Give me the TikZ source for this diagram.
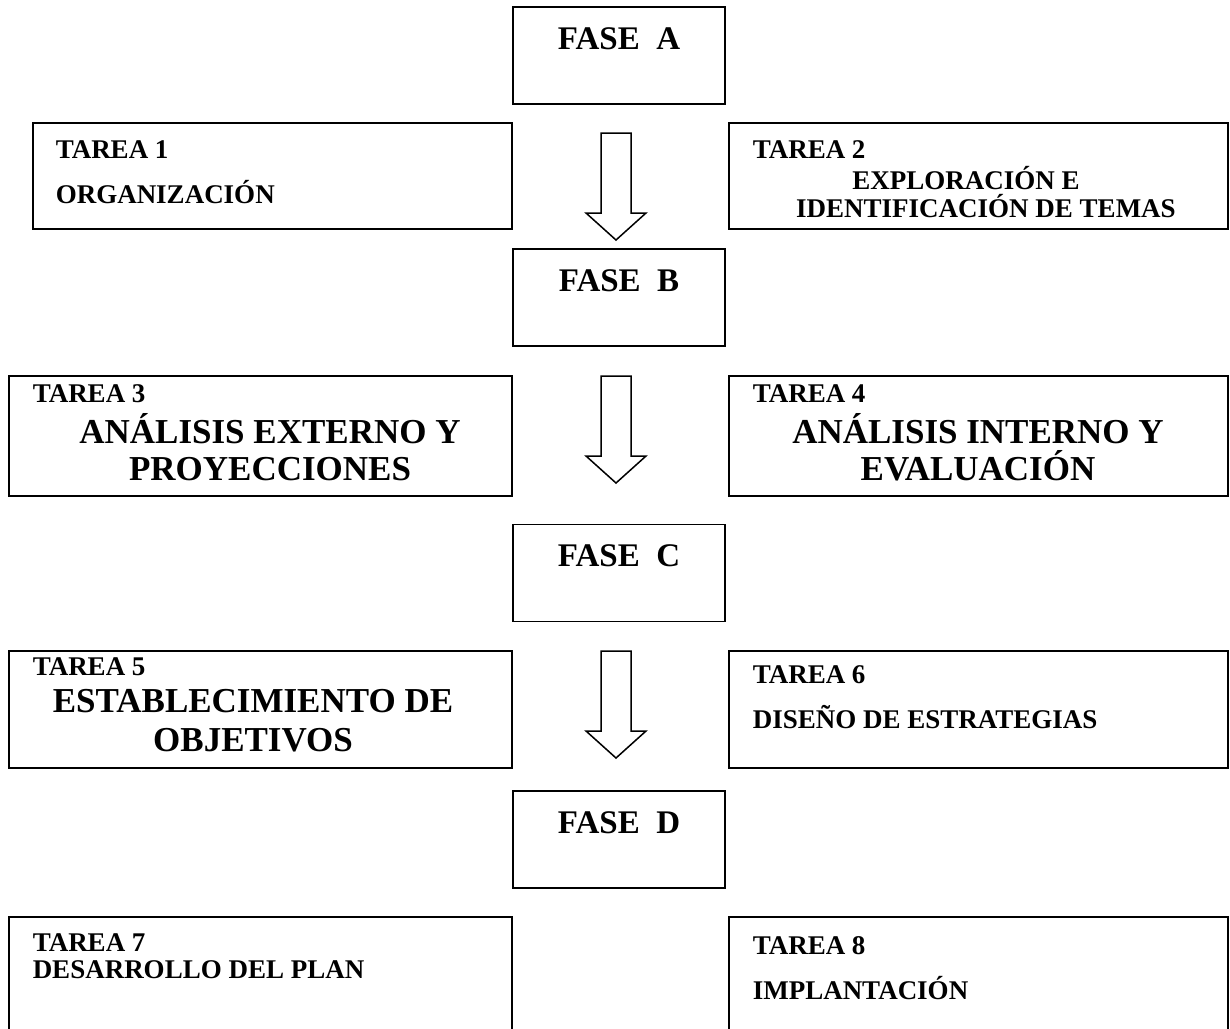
\documentclass[tikz,border=0pt]{standalone}
\usepackage{fontspec}
\setmainfont{Liberation Serif}
\usetikzlibrary{calc}

\begin{document}
\begin{tikzpicture}[x=1pt,y=-1pt,line width=1.5pt,
caja/.style={draw=black,rectangle,inner sep=0pt},
fase/.style={caja,minimum width=212,minimum height=97},
tarea/.style={caja,minimum width=#1},
chico/.style={font=\fontsize{27}{31}\selectfont\bfseries,inner sep=0pt},
grande/.style={font=\fontsize{35}{40}\selectfont\bfseries,inner sep=0pt},
titulo/.style={font=\fontsize{33}{38}\selectfont\bfseries,inner sep=0pt,anchor=base},
flecha/.style={draw=black,fill=white,line join=miter}]
\clip (0,0) rectangle (1230,1028);
% fases
\node[fase] (faseA) at (619,55.5) {};
\node[fase] (faseB) at (619,297.5) {};
\node[fase] (faseC) at (619,573) {};
\node[fase] (faseD) at (619,839.5) {};
\node[titulo] (tA) at ($(faseA.north)+(0,43)$) {FASE\ \ A};
\node[titulo] (tB) at ($(faseB.north)+(0,43)$) {FASE\ \ B};
\node[titulo] (tC) at ($(faseC.north)+(0,43)$) {FASE\ \ C};
\node[titulo] (tD) at ($(faseD.north)+(0,43)$) {FASE\ \ D};
% tareas
\node[tarea=479,minimum height=106] (tarea1) at (272.5,176) {};
\node[tarea=499,minimum height=106] (tarea2) at (978.5,176) {};
\node[tarea=503,minimum height=120] (tarea3) at (260.5,436) {};
\node[tarea=499,minimum height=120] (tarea4) at (978.5,436) {};
\node[tarea=503,minimum height=117] (tarea5) at (260.5,709.5) {};
\node[tarea=499,minimum height=117] (tarea6) at (978.5,709.5) {};
\node[tarea=503,minimum height=143] (tarea7) at (260.5,988.5) {};
\node[tarea=499,minimum height=143] (tarea8) at (978.5,988.5) {};
% textos
\node[chico,anchor=base west] (n1) at (55,158) {TAREA 1};
\node[chico,anchor=base west] (d1) at (55,203) {ORGANIZACIÓN};
\node[chico,anchor=base west] (n2) at (752,158) {TAREA 2};
\node[chico,anchor=base] (d2a) at (966,189) {EXPLORACIÓN E};
\node[chico,anchor=base] (d2b) at (986,217) {IDENTIFICACIÓN DE TEMAS};
\node[chico,anchor=base west] (n3) at (32,402) {TAREA 3};
\node[grande,anchor=base] (d3a) at (270,443) {ANÁLISIS EXTERNO Y};
\node[grande,anchor=base] (d3b) at (270,480) {PROYECCIONES};
\node[chico,anchor=base west] (n4) at (752,402) {TAREA 4};
\node[grande,anchor=base] (d4a) at (978,443) {ANÁLISIS INTERNO Y};
\node[grande,anchor=base] (d4b) at (978,480) {EVALUACIÓN};
\node[chico,anchor=base west] (n5) at (32,675) {TAREA 5};
\node[grande,anchor=base] (d5a) at (253,712) {ESTABLECIMIENTO DE};
\node[grande,anchor=base] (d5b) at (253,751) {OBJETIVOS};
\node[chico,anchor=base west] (n6) at (752,683) {TAREA 6};
\node[chico,anchor=base west] (d6) at (752,728) {DISEÑO DE ESTRATEGIAS};
\node[chico,anchor=base west] (n7) at (32,951) {TAREA 7};
\node[chico,anchor=base west] (d7) at (32,978) {DESARROLLO DEL PLAN};
\node[chico,anchor=base west] (n8) at (752,954) {TAREA 8};
\node[chico,anchor=base west] (d8) at (752,999) {IMPLANTACIÓN};
% flechas
\coordinate (f1) at (616,133);
\coordinate (f2) at (616,376);
\coordinate (f3) at (616,651);
\foreach \f in {f1,f2,f3}
  \draw[flecha] (\f) ++(-15,0) -- ++(0,80) -- ++(-15,0) -- ++(30,27)
    -- ++(30,-27) -- ++(-15,0) -- ++(0,-80) -- cycle;
\end{tikzpicture}
\end{document}
